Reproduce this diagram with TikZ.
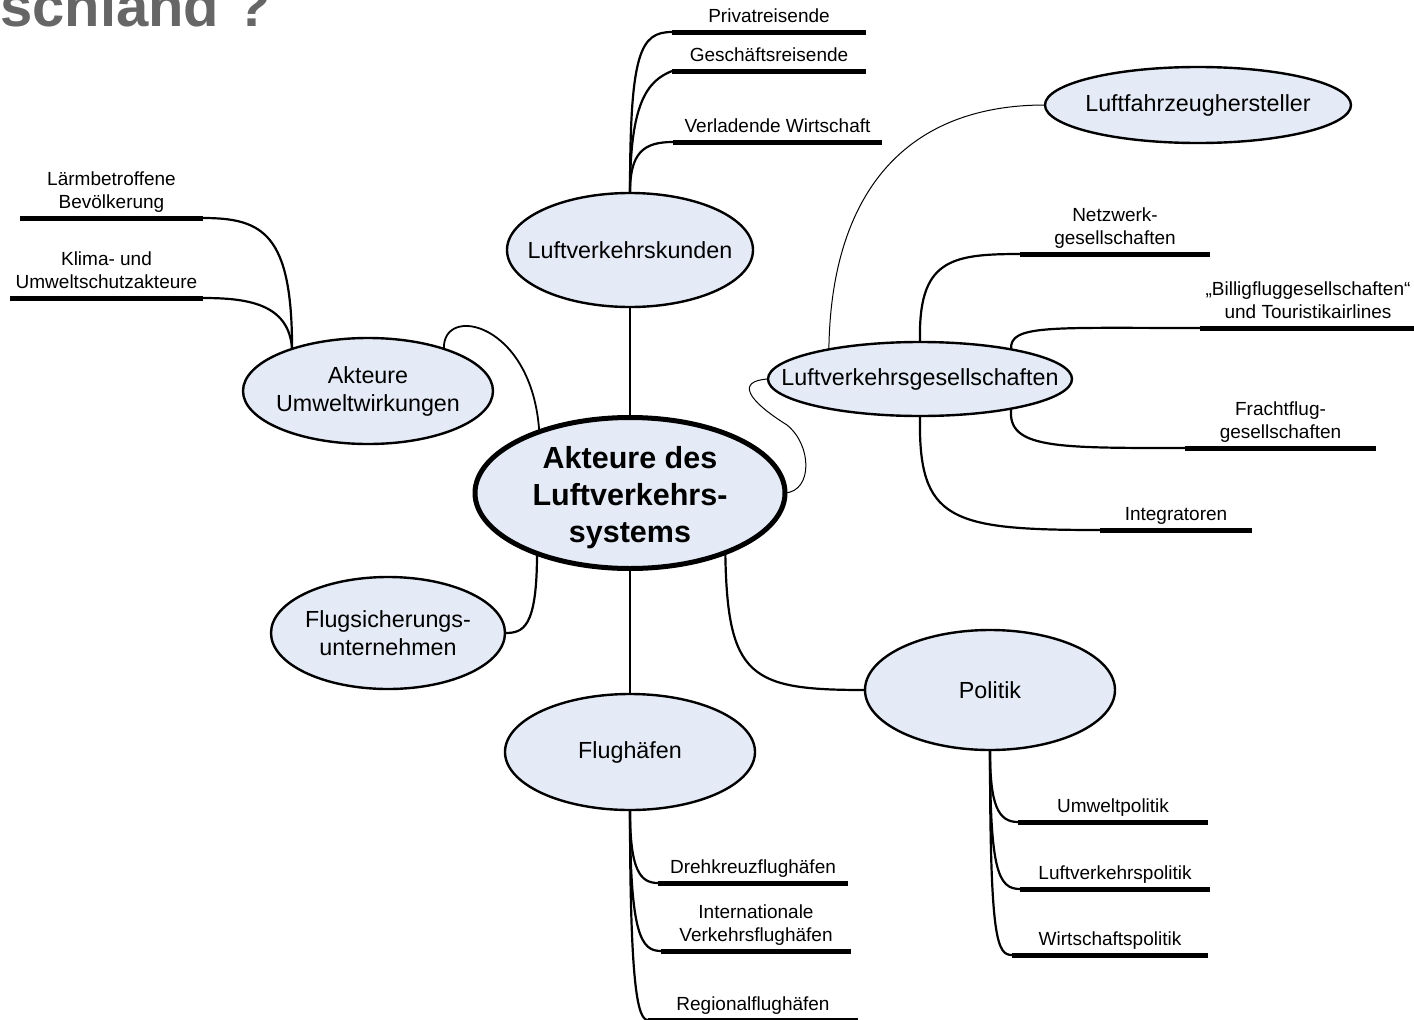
\documentclass[tikz,border=0pt]{standalone}
\usepackage{fontspec}
\setmainfont{Liberation Sans}
\usetikzlibrary{shapes.geometric}
\definecolor{topicfill}{RGB}{228,234,246}
\definecolor{titlegray}{RGB}{102,102,102}
\newcommand{\sublabel}[1]{\begin{tabular}[b]{@{}c@{}}#1\end{tabular}}

\begin{document}
\begin{tikzpicture}[
            x = 1pt, y = -1pt, % pixel grid, y runs downwards
            topic/.style = {ellipse, draw, line width = 2.4pt, fill = topicfill,
                inner sep = -60pt, outer sep = 0pt, align = center,
                font = \fontsize{23.3}{28}\selectfont},
            leaf/.style = {anchor = south, inner xsep = 0pt, inner ysep = 2.7pt,
                outer sep = 0pt, font = \fontsize{19}{23}\selectfont},
            bar/.style = {line width = 5pt},
            branch/.style = {line width = 2.2pt},
            thin/.style = {line width = 1pt}
        ]

        \useasboundingbox (0,0) rectangle (1414,1020);

        % title rest
        \node[anchor = base west, inner sep = 0pt, text = titlegray,
            font = \bfseries\fontsize{58}{62}\selectfont] (head) at (0,26) {schland ?};

        % central topic
        \node[topic, line width = 5pt, minimum width = 310, minimum height = 151,
            font = \bfseries\fontsize{30.5}{37}\selectfont] (sys) at (630,493) {\rule{0pt}{32pt}Akteure des\\Luftverkehrs-\\systems};

        % main topics
        \node[topic, minimum width = 246, minimum height = 114] (kunden) at (630,250) {Luftverkehrskunden};
        \node[topic, minimum width = 250, minimum height = 106] (umwelt) at (368,391) {Akteure\\Umweltwirkungen};
        \node[topic, minimum width = 304, minimum height = 74] (lvg) at (920,379) {Luftverkehrsgesellschaften};
        \node[topic, minimum width = 306, minimum height = 76] (lfzh) at (1198,105) {Luftfahrzeughersteller};
        \node[topic, minimum width = 234, minimum height = 112] (flugs) at (388,633) {Flugsicherungs-\\unternehmen};
        \node[topic, minimum width = 250, minimum height = 120] (politik) at (990,690) {Politik};
        \node[topic, minimum width = 250, minimum height = 116] (flugh) at (630,752) {Flughäfen};

        % subtopics
        \node[leaf, minimum width = 194] (privat) at (769,32) {\sublabel{Privatreisende}};
        \node[leaf, minimum width = 194] (gesch) at (769,71) {\sublabel{Geschäftsreisende}};
        \node[leaf, minimum width = 209] (verlad) at (777.5,142) {\sublabel{Verladende Wirtschaft}};

        \node[leaf, minimum width = 183] (laerm) at (111.5,218) {\sublabel{Lärmbetroffene\\Bevölkerung}};
        \node[leaf, minimum width = 193] (klima) at (106.5,298) {\sublabel{Klima- und\\Umweltschutzakteure}};

        \node[leaf, minimum width = 190] (netz) at (1115,254) {\sublabel{Netzwerk-\\gesellschaften}};
        \node[leaf, minimum width = 216] (billig) at (1308,328) {\sublabel{„Billigfluggesellschaften“\\und Touristikairlines}};
        \node[leaf, minimum width = 191] (fracht) at (1280.5,448) {\sublabel{Frachtflug-\\gesellschaften}};
        \node[leaf, minimum width = 152] (integ) at (1176,530) {\sublabel{Integratoren}};

        \node[leaf, minimum width = 190] (umweltpol) at (1113,822) {\sublabel{Umweltpolitik}};
        \node[leaf, minimum width = 190] (lvpol) at (1115,889) {\sublabel{Luftverkehrspolitik}};
        \node[leaf, minimum width = 196] (wipol) at (1110,955) {\sublabel{Wirtschaftspolitik}};

        \node[leaf, minimum width = 190] (dreh) at (753,883) {\sublabel{Drehkreuzflughäfen}};
        \node[leaf, minimum width = 190] (intl) at (756,951) {\sublabel{Internationale\\Verkehrsflughäfen}};
        \node[leaf, minimum width = 210] (regio) at (753,1020) {\sublabel{Regionalflughäfen}};

        \foreach \n in {privat, gesch, verlad, laerm, klima, netz, billig, fracht,
                integ, umweltpol, lvpol, wipol, dreh, intl, regio}
            \draw[bar] (\n.south west) -- (\n.south east);

        % centre to main topics
        \draw[branch] (sys.north) -- (kunden.south);
        \draw[branch] (sys.south) -- (flugh.north);
        \draw[branch] (sys.213) .. controls +(0,75) and +(18,0) .. (flugs.east);
        \draw[branch] (sys.328) .. controls +(2,125) and +(-115,0) .. (politik.west);
        \draw[line width = 1.8pt] (sys.146) .. controls +(-7,-110) and +(-2,-45) .. (umwelt.29);
        \draw[thin] (sys.east) .. controls +(28,-2) and +(25,20) .. (787,425)
            .. controls +(-40,-25) and +(-32,2) .. (lvg.west);
        \draw[thin] (lvg.162) .. controls +(2,-150) and +(-145,0) .. (lfzh.west);

        % main topics to subtopics
        \draw[branch] (kunden.north) .. controls +(0,-140) and +(-32,0) .. (privat.south west);
        \draw[branch] (kunden.north) .. controls +(0,-90) and +(-25,10) .. (gesch.south west);
        \draw[branch] (kunden.north) .. controls +(0,-40) and +(-30,0) .. (verlad.south west);

        \draw[branch] (umwelt.151) .. controls +(0,-115) and +(60,0) .. (laerm.south east);
        \draw[branch] (umwelt.151) .. controls +(-3,-45) and +(45,0) .. (klima.south east);

        \draw[branch] (lvg.north) .. controls +(-2,-82) and +(-70,0) .. (netz.south west);
        \draw[branch] (lvg.18) .. controls +(-2,-25) and +(-150,0) .. (billig.south west);
        \draw[branch] (lvg.342) .. controls +(-4,40) and +(-130,0) .. (fracht.south west);
        \draw[branch] (lvg.south) .. controls +(-2,105) and +(-150,0) .. (integ.south west);

        \draw[branch] (politik.south) .. controls +(0,55) and +(-20,0) .. (umweltpol.south west);
        \draw[branch] (politik.south) .. controls +(0,120) and +(-22,0) .. (lvpol.south west);
        \draw[branch] (politik.south) .. controls +(0,190) and +(-15,0) .. (wipol.south west);

        \draw[branch] (flugh.south) .. controls +(0,60) and +(-18,0) .. (dreh.south west);
        \draw[branch] (flugh.south) .. controls +(0,125) and +(-20,0) .. (intl.south west);
        \draw[branch] (flugh.south) .. controls +(0,180) and +(-10,0) .. (regio.south west);

\end{tikzpicture}
\end{document}
